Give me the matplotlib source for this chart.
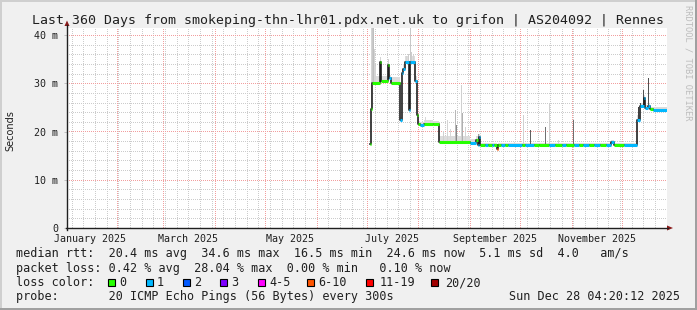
import numpy as np
import matplotlib.pyplot as plt
from matplotlib.patches import Rectangle, Polygon
from datetime import date

#============================================
# data
#============================================
# median rtt as steps: day of 2025 (0 = Jan 1), value (ms), loss bucket
med_day = [182.7, 183.6, 184.2, 189.0, 189.6, 193.8, 194.4, 195.3, 201.0, 202.2,
           202.8, 204.0, 206.4, 207.0, 210.0, 210.9, 211.8, 213.0, 215.4, 220.8,
           224.4, 243.0, 246.6, 247.8, 248.4, 249.0, 251.9, 253.8, 256.2, 257.4,
           259.2, 259.8, 261.6, 264.0, 265.8, 274.2, 276.0, 281.4, 284.4, 290.4,
           294.0, 298.2, 300.6, 305.4, 308.4, 310.8, 314.4, 317.4, 321.0, 324.6,
           327.6, 329.4, 335.4, 343.2, 345.0, 347.4, 348.0, 349.8, 351.0, 352.8]
med_ms = [17.4, 24.7, 30.1, 34.4, 30.5, 33.8, 31.0, 30.0, 22.4, 32.2,
          33.0, 34.5, 24.5, 34.5, 30.5, 23.5, 21.6, 21.3, 21.6, 21.5,
          17.8, 17.6, 18.3, 17.3, 18.9, 17.2, 17.2, 17.2, 17.3, 17.2,
          16.4, 17.2, 17.2, 17.2, 17.2, 17.3, 17.2, 17.2, 17.2, 17.3,
          17.2, 17.2, 17.2, 17.2, 17.2, 17.2, 17.2, 17.2, 17.2, 17.2,
          17.9, 17.2, 17.2, 22.4, 25.3, 27.0, 24.9, 25.3, 24.7, 24.5]
med_loss = [0, 0, 0, 0, 0, 0, 1, 0, 1, 1,
            1, 1, 1, 1, 1, 0, 0, 1, 0, 0,
            0, 1, 0, 1, 1, 0, 1, 0, 1, 0,
            5, 0, 1, 0, 1, 0, 1, 0, 0, 1,
            0, 1, 0, 1, 0, 1, 0, 1, 0, 1,
            1, 0, 1, 1, 1, 1, 1, 1, 0, 1]
# light smoke just above the median, same steps
smoke_hi = [17.6, 25.5, 31.5, 35.0, 31.5, 34.5, 31.8, 31.2, 23.0, 33.0,
            34.0, 35.6, 25.5, 35.6, 31.5, 24.0, 22.2, 22.0, 22.3, 22.2,
            19.0, 18.5, 19.0, 18.0, 19.4, 17.6, 17.6, 17.6, 17.7, 17.6,
            17.0, 17.6, 17.6, 17.6, 17.6, 17.7, 17.6, 17.6, 17.6, 17.7,
            17.6, 17.6, 17.6, 17.6, 17.6, 17.6, 17.6, 17.6, 17.6, 17.6,
            18.3, 17.6, 17.6, 23.5, 26.0, 27.6, 25.4, 25.8, 25.1, 25.0]
end_day = 361.18

# single smoke spikes: day, top (ms), grey
spike_day = [183.6, 184.2, 184.8, 185.4, 186.0, 189.0, 192.0, 193.8, 196.2, 204.6,
             205.8, 207.0, 207.6, 208.8, 216.0, 219.0, 226.8, 229.2, 231.0, 234.0,
             234.6, 237.6, 238.2, 240.0, 247.8, 269.9, 274.8, 279.0, 288.0, 290.4,
             295.8, 304.8, 343.8, 345.0, 346.8, 349.8]
spike_top = [41.5, 41.5, 41.5, 37.0, 33.5, 35.5, 31.5, 35.0, 31.2, 35.6,
             36.0, 41.5, 36.5, 35.8, 23.0, 22.4, 20.2, 22.4, 20.5, 24.5,
             21.3, 29.6, 23.8, 21.0, 19.5, 17.9, 23.4, 20.3, 21.0, 25.9,
             18.2, 22.4, 25.0, 26.0, 28.6, 31.1]
spike_grey = ['#d4d4d4', '#c8c8c8', '#bebebe', '#d4d4d4', '#d4d4d4', '#d4d4d4', '#dcdcdc',
              '#d4d4d4', '#dcdcdc', '#d4d4d4', '#cccccc', '#c8c8c8', '#cccccc', '#d4d4d4',
              '#d8d8d8', '#d8d8d8', '#d0d0d0', '#d4d4d4', '#d8d8d8', '#b8b8b8', '#888888',
              '#d0d0d0', '#b0b0b0', '#d4d4d4', '#a0a0a0', '#d8d8d8', '#d0d0d0', '#606060',
              '#707070', '#d0d0d0', '#d4d4d4', '#707070', '#404040', '#505050', '#505050',
              '#505050']

y_ticks = [0, 10, 20, 30, 40]
y_labels = ['0', '10 m', '20 m', '30 m', '40 m']
x_label_months = [1, 3, 5, 7, 9, 11]
x_labels = ['January 2025', 'March 2025', 'May 2025', 'July 2025',
            'September 2025', 'November 2025']

loss_labels = ['0', '1', '2', '3', '4-5', '6-10', '11-19', '20/20']
loss_colors = ['#26ff00', '#00b8ff', '#0059ff', '#7e00ff', '#ff00ff',
               '#ff5500', '#ff0000', '#a10000']

title = 'Last 360 Days from smokeping-thn-lhr01.pdx.net.uk to grifon | AS204092 | Rennes'
line_rtt = 'median rtt:  20.4 ms avg  34.6 ms max  16.5 ms min  24.6 ms now  5.1 ms sd  4.0   am/s'
line_loss = 'packet loss: 0.42 % avg  28.04 % max  0.00 % min   0.10 % now'
line_probe = 'probe:       20 ICMP Echo Pings (56 Bytes) every 300s'
stamp = 'Sun Dec 28 04:20:12 2025'

#============================================
# figure
#============================================
W, H = 697, 310
PW, PH = 600, 200          # plot area in pixels
MONO = 'DejaVu Sans Mono'
TXT = '#202020'
XMIN, YTOP = 1.18, 200 / 4.825

def fx(x, y):
    return (x / W, 1 - y / H)

fig = plt.figure(figsize=(W / 100, H / 100), dpi=100, facecolor='#f0f0f0')

# frame shading
fig.add_artist(Rectangle(fx(0, H), 2 / W, 1, transform=fig.transFigure, color='#cfcfcf', lw=0))
fig.add_artist(Rectangle(fx(0, 2), 1, 2 / H, transform=fig.transFigure, color='#cfcfcf', lw=0))
fig.add_artist(Rectangle(fx(0, H), 1, 2 / H, transform=fig.transFigure, color='#a0a0a0', lw=0))
fig.add_artist(Rectangle(fx(W - 2, H), 2 / W, 1, transform=fig.transFigure, color='#a0a0a0', lw=0))

x0, y0 = fx(67, 228)
ax = fig.add_axes([x0, y0, PW / W, PH / H], facecolor='white')
ax.set_xlim(XMIN, end_day)
ax.set_ylim(0, YTOP)
for s in ax.spines.values():
    s.set_visible(False)

#--------------------------------------------
# dotted grid, rasterised pixel by pixel like rrdtool
#--------------------------------------------
minor_c = np.array([0.80, 0.80, 0.80])
major_c = np.array([0.95, 0.62, 0.62])
grid = np.ones((PH, PW, 3))

def hline(v, c):
    r = int(round((YTOP - v) / YTOP * PH))
    if 0 <= r < PH:
        grid[r, ::2] = c

def vline(d, c):
    col = int(round((d - XMIN) / (end_day - XMIN) * PW))
    if 0 <= col < PW:
        grid[1::2, col] = c

month_start = [(date(2025, m, 1) - date(2025, 1, 1)).days for m in range(2, 13)]
for v in range(2, 42, 2):
    if v % 10:
        hline(v, minor_c)
for d in range(4, int(end_day), 7):
    vline(d, minor_c)
for v in range(10, 42, 10):
    hline(v, major_c)
for d in month_start:
    vline(d, major_c)
ax.imshow(grid, extent=(XMIN, end_day, 0, YTOP), aspect='auto',
          interpolation='nearest', zorder=0)

# smoke
days = np.array(med_day + [end_day])
vals = np.array(med_ms + [med_ms[-1]])
his = np.array(smoke_hi + [smoke_hi[-1]])
ax.fill_between(days, vals, his, step='post', color='#dcdcdc', lw=0, zorder=1)
idx = np.searchsorted(med_day, spike_day, side='right') - 1
bottoms = np.array(med_ms)[idx]
ax.bar(spike_day, np.array(spike_top) - bottoms, bottom=bottoms, width=0.6,
       color=spike_grey, lw=0, zorder=1)

# median line: black connectors, loss coloured steps
ax.step(days, vals, where='post', color='#202020', lw=1.2, zorder=2)
ax.hlines(med_ms, med_day, days[1:], colors=[loss_colors[l] for l in med_loss],
          lw=2.2, zorder=3)

# ticks
ax.set_yticks(y_ticks)
ax.set_yticklabels(y_labels, family=MONO, fontsize=7.2, color=TXT)
mid = [(date(2025, m, 1) - date(2025, 1, 1)).days + 15 for m in x_label_months]
ax.set_xticks(mid)
ax.set_xticklabels(x_labels, family=MONO, fontsize=7.2, color=TXT)
ax.tick_params(axis='y', length=2, width=0.7, color='#c0c0c0', pad=4.5)
ax.tick_params(axis='x', length=0, pad=4)
ax.set_xlim(XMIN, end_day)
ax.set_ylim(0, YTOP)

# axes with arrows
ax_col = '#202020'
arr_col = '#8b1a1a'
fig.add_artist(plt.Line2D(*zip(fx(66, 228), fx(668, 228)), transform=fig.transFigure,
                          color=ax_col, lw=1))
fig.add_artist(plt.Line2D(*zip(fx(67, 230), fx(67, 25)), transform=fig.transFigure,
                          color=ax_col, lw=1))
fig.add_artist(Polygon([fx(667, 225.5), fx(667, 230.5), fx(673, 228)],
                       transform=fig.transFigure, color=arr_col, lw=0))
fig.add_artist(Polygon([fx(64.5, 26), fx(69.5, 26), fx(67, 20.5)],
                       transform=fig.transFigure, color=arr_col, lw=0))

# texts
fig.text(*fx(348.5, 24), title, family=MONO, fontsize=9.55, color=TXT,
         ha='center', va='baseline')
fig.text(*fx(10, 131), 'Seconds', family='DejaVu Sans', fontsize=7, color=TXT,
         rotation=90, ha='center', va='center')
fig.text(*fx(688, 5), 'RRDTOOL / TOBI OETIKER', family=MONO, fontsize=6.3,
         color='#bdbdbd', rotation=270, ha='center', va='top')

fig.text(*fx(16, 257.3), line_rtt, family=MONO, fontsize=8.5, color=TXT, va='baseline')
fig.text(*fx(16, 271.7), line_loss, family=MONO, fontsize=8.5, color=TXT, va='baseline')
fig.text(*fx(16, 286), 'loss color:', family=MONO, fontsize=8.5, color=TXT, va='baseline')
fig.text(*fx(16, 300.3), line_probe, family=MONO, fontsize=8.5, color=TXT, va='baseline')
fig.text(*fx(680, 300.3), stamp, family=MONO, fontsize=8.5, color=TXT,
         ha='right', va='baseline')

box_x = [108.3, 145.7, 182.7, 220, 257.7, 307.3, 366, 430.7]
lab_x = [119.5, 156.9, 193.9, 231.2, 268.9, 318.5, 380, 445]
for bx, lx, c, lab in zip(box_x, lab_x, loss_colors, loss_labels):
    fig.add_artist(Rectangle(fx(bx, 285.6), 7 / W, 7 / H, transform=fig.transFigure,
                             facecolor=c, edgecolor='black', lw=0.8))
    fig.text(*fx(lx, 286), lab, family=MONO, fontsize=8.5, color=TXT, va='baseline')

fig.savefig('out.png', dpi=100, facecolor=fig.get_facecolor())
